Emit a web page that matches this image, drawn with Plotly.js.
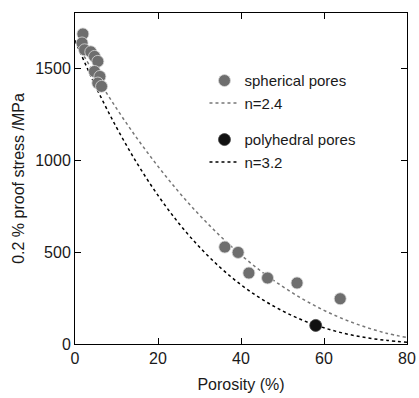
<!DOCTYPE html>
<html>
<head>
<meta charset="utf-8">
<script src="https://cdn.plot.ly/plotly-3.0.1.min.js"></script>
<style>html,body{margin:0;padding:0;background:#fff}#chart{width:419px;height:398px}</style>
</head>
<body>
<div id="chart"></div>
<script>
// Spherical pores (measured)
const spherePorosity = [-0.4, 1.9, 1.7, 2.3, 3.8, 4.7, 5.5, 4.7, 6.0, 5.5, 6.4, 36.1, 39.3, 41.9, 46.4, 53.5, 63.9];
const sphereStress   = [1635, 1686, 1637, 1600, 1589, 1564, 1537, 1482, 1455, 1419, 1401, 527, 498, 386, 359, 332, 246];
// Polyhedral pores (measured)
const polyPorosity = [58.0];
const polyStress   = [101];
// Fitted curves
const curvePorosity = [0, 5, 10, 15, 20, 25, 30, 35, 40, 45, 50, 55, 60, 65, 70, 75, 80];
const curveN24 = [1650, 1459, 1281, 1117, 966, 827, 701, 587, 484, 393, 313, 243, 183, 133, 92, 59, 35];
const curveN32 = [1650, 1400, 1178, 981, 808, 657, 527, 416, 322, 244, 180, 128, 88, 57, 35, 20, 10];
const xTicks = [0, 20, 40, 60, 80];
const yTicks = [0, 500, 1000, 1500];

const font = {family: '"Liberation Sans", Arial, sans-serif', size: 16, color: '#1a1a1a'};
const legendFont = {family: '"Liberation Sans", Arial, sans-serif', size: 15, color: '#1a1a1a'};

const traces = [
  {x: curvePorosity, y: curveN24, mode: 'lines', name: 'n=2.4', legendgroup: 'a', legendrank: 2,
   line: {color: '#777', width: 1.5, dash: '3px,3px', shape: 'spline'}},
  {x: curvePorosity, y: curveN32, mode: 'lines', name: 'n=3.2', legendgroup: 'b', legendrank: 4,
   line: {color: '#000', width: 1.5, dash: '3px,3px', shape: 'spline'}},
  {x: spherePorosity, y: sphereStress, mode: 'markers', name: 'spherical pores', legendgroup: 'a', legendrank: 1,
   cliponaxis: false,
   marker: {color: '#6e6e6e', size: 12, line: {color: '#d8d8d8', width: 0.8}}},
  {x: polyPorosity, y: polyStress, mode: 'markers', name: 'polyhedral pores', legendgroup: 'b', legendrank: 3,
   cliponaxis: false,
   marker: {color: '#111', size: 12, line: {color: '#444', width: 0.8}}}
];

const layout = {
  width: 419, height: 398,
  margin: {l: 75, r: 12, t: 13, b: 54},
  paper_bgcolor: '#fff', plot_bgcolor: '#fff',
  font: font,
  showlegend: true,
  legend: {x: 0.39, y: 0.845, xanchor: 'left', yanchor: 'top', bgcolor: 'rgba(0,0,0,0)',
           tracegroupgap: 14, font: legendFont},
  xaxis: {range: [0, 80], tickvals: xTicks, ticks: 'inside', ticklen: 6, tickcolor: '#000',
          showline: true, linecolor: '#000', linewidth: 1, mirror: 'ticks', showgrid: false, zeroline: false,
          title: {text: 'Porosity (%)', font: font, standoff: 12}, tickfont: font},
  yaxis: {range: [0, 1800], tickvals: yTicks, ticks: 'inside', ticklen: 6, tickcolor: '#000',
          showline: true, linecolor: '#000', linewidth: 1, mirror: 'ticks', showgrid: false, zeroline: false,
          title: {text: '0.2 % proof stress /MPa', font: font, standoff: 6}, tickfont: font}
};

Plotly.newPlot('chart', traces, layout, {displayModeBar: false, staticPlot: true});
</script>
</body>
</html>
